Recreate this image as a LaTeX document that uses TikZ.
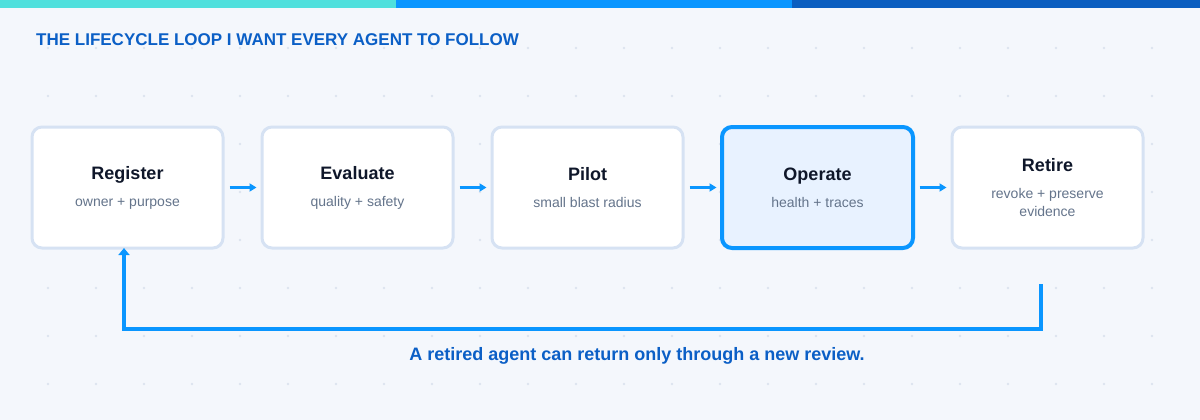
\documentclass[tikz,border=0pt]{standalone}
\usepackage{fontspec}
\setmainfont{Liberation Sans}
\usetikzlibrary{
  arrows.meta,
  positioning,
  calc,
  backgrounds
}
\definecolor{pagebg}{HTML}{F4F7FC}
\definecolor{dotgrey}{HTML}{DCE4EF}
\definecolor{barteal}{HTML}{4FE0DD}
\definecolor{barblue}{HTML}{0A96FF}
\definecolor{bardeep}{HTML}{0B5EC0}
\definecolor{headblue}{HTML}{0B5FC6}
\definecolor{border}{HTML}{D6E2F3}
\definecolor{activefill}{HTML}{E8F2FF}
\definecolor{textprimary}{HTML}{0F172A}
\definecolor{textsecondary}{HTML}{64748B}
\newcommand{\ntitle}[1]{{\fontsize{18}{18}\selectfont\bfseries\color{textprimary}#1}}
\newcommand{\nsub}[1]{{\color{textsecondary}#1}}
\tikzset{
  stage/.style={
    draw=border,
    fill=white,
    line width=3pt,
    rounded corners=10pt,
    minimum width=191pt,
    minimum height=121pt,
    outer sep=0pt,
    inner sep=6pt,
    align=center,
    font=\fontsize{14}{18}\selectfont,
  },
  stageactive/.style={
    stage,
    draw=barblue,
    fill=activefill,
    line width=4pt,
  },
  flow/.style={
    -{Triangle[length=7pt, width=8pt]},
    line width=3pt,
    draw=barblue,
    shorten <=6.5pt,
    shorten >=5.5pt,
  },
  loopback/.style={
    -{Triangle[length=7pt, width=11pt]},
    line width=3.5pt,
    draw=barblue,
  },
  heading/.style={
    font=\fontsize{17}{20}\selectfont\bfseries,
    text=headblue,
    inner sep=0pt,
  },
  gridpt/.style={
    fill=dotgrey,
  },
}

\begin{document}
\begin{tikzpicture}[x=1pt, y=-1pt]
\useasboundingbox (0,0) rectangle (1200,420);

% === Title ===

\node[heading, anchor=west]
  (title) at (36,40) {THE LIFECYCLE LOOP I WANT EVERY AGENT TO FOLLOW};

% === Stages ===

\node[stage]
  (register) at (127.5,187.5) {\ntitle{Register}\\[9pt]\nsub{owner + purpose}};

\node[stage, right=39pt of register]
  (evaluate) {\ntitle{Evaluate}\\[9pt]\nsub{quality + safety}};

\node[stage, right=39pt of evaluate]
  (pilot) {\ntitle{Pilot}\\[9pt]\nsub{small blast radius}};

\node[stageactive, right=39pt of pilot]
  (operate) {\ntitle{Operate}\\[9pt]\nsub{health + traces}};

\node[stage, right=39pt of operate]
  (retire) {\ntitle{Retire}\\[9pt]\nsub{revoke + preserve}\\\nsub{evidence}};

\draw[flow] (register) -- (evaluate);
\draw[flow] (evaluate) -- (pilot);
\draw[flow] (pilot) -- (operate);
\draw[flow] (operate) -- (retire);

% === Loop back to register ===

\coordinate (loopstart) at ($(retire.south)+(-6.5,36)$);
\draw[loopback] (loopstart) -- ++(0,45) -| ([xshift=-3.5pt]register.south);

\node[heading, font=\fontsize{18}{21}\selectfont\bfseries]
  (note) at (637,356) {A retired agent can return only through a new review.};

% === Page background, dot grid, top bar ===
\begin{pgfonlayer}{background}
  \fill[pagebg] (0,0) rectangle (1200,420);
  \foreach \i in {1,...,24}
    \foreach \j in {1,...,8}
      \fill[gridpt] (48*\i,48*\j) circle (1.3pt);
  \fill[barteal] (0,0) rectangle (396,8);
  \fill[barblue] (396,0) rectangle (792,8);
  \fill[bardeep] (792,0) rectangle (1200,8);
\end{pgfonlayer}

\end{tikzpicture}
\end{document}
